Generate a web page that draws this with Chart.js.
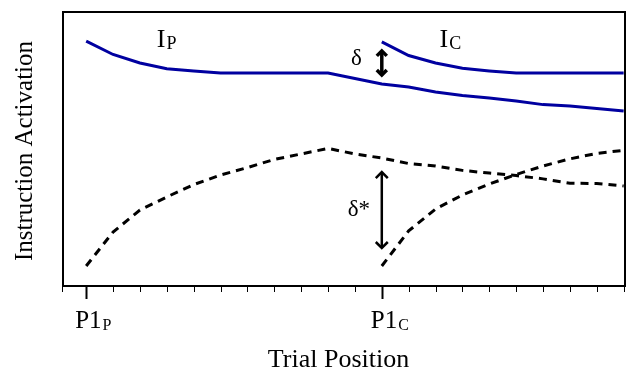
<!DOCTYPE html>
<html lang="en">
<head>
<meta charset="UTF-8">
<title>Instruction Activation</title>
<script src="https://cdn.jsdelivr.net/npm/chart.js"></script>
<style>
    body { margin: 0; background: #fff; }
</style>
</head>
<body>
<canvas id="chart" width="626" height="370"></canvas>
<script>
    // trial positions, P1_P at 0 and P1_C at 11
    const trials = [0,1,2,3,4,5,6,7,8,9,10,11,12,13,14,15,16,17,18,19,20];
    const majorTicks = [0, 11];
    const majorLabels = [['P1', 'P'], ['P1', 'C']];

    // solid lines: previous (I_P) and current (I_C) instruction
    const prevInstr = [89.4, 84.5, 81.4, 79.3, 78.5, 77.7, 77.7, 77.7, 77.7, 77.7, 75.7,
                       73.7, 72.6, 70.8, 69.5, 68.6, 67.5, 66.2, 65.7, 64.8, 63.9];
    const currInstr = [null, null, null, null, null, null, null, null, null, null, null,
                       89.1, 84.1, 81.4, 79.5, 78.5, 77.7, 77.7, 77.7, 77.7, 77.7];
    // dashed lines
    const prevDashed = [7.3, 19.7, 27.7, 32.5, 37.0, 40.5, 43.2, 46.2, 48.2, 50.2, 48.2,
                        46.7, 44.7, 43.8, 42.2, 41.2, 40.3, 39.1, 37.5, 37.4, 36.5];
    const currDashed = [null, null, null, null, null, null, null, null, null, null, null,
                        7.3, 20.1, 28.1, 33.2, 37.2, 40.7, 43.8, 46.4, 48.4, 49.5];

    const BLUE = '#0000a0';
    const SERIF = '"Liberation Serif", "DejaVu Serif", serif';

    function points(values) {
        return trials.map((t, i) => ({ x: t, y: values[i] }));
    }

    function drawSub(ctx, main, sub, x, y, size, subSize) {
        ctx.font = size + 'px ' + SERIF;
        ctx.textAlign = 'left';
        ctx.textBaseline = 'alphabetic';
        ctx.fillText(main, x, y);
        const w = ctx.measureText(main).width;
        ctx.font = subSize + 'px ' + SERIF;
        ctx.fillText(sub, x + w + 1, y + 2);
    }

    function drawArrow(ctx, x, top, bottom, width, head) {
        ctx.save();
        ctx.strokeStyle = '#000';
        ctx.lineWidth = width;
        ctx.lineJoin = 'miter';
        ctx.lineCap = 'butt';
        ctx.beginPath();
        ctx.moveTo(x, top + 1);
        ctx.lineTo(x, bottom - 1);
        ctx.stroke();
        ctx.beginPath();
        ctx.moveTo(x - head, top + head);
        ctx.lineTo(x, top);
        ctx.lineTo(x + head, top + head);
        ctx.moveTo(x - head, bottom - head);
        ctx.lineTo(x, bottom);
        ctx.lineTo(x + head, bottom - head);
        ctx.stroke();
        ctx.restore();
    }

    const frame = {
        id: 'frame',
        afterDraw(chart) {
            const ctx = chart.ctx;
            const a = chart.chartArea;
            const xs = chart.scales.x;
            const ys = chart.scales.y;
            ctx.save();
            ctx.fillStyle = '#000';
            ctx.strokeStyle = '#000';

            // box
            ctx.lineWidth = 2;
            ctx.strokeRect(a.left + 1, a.top, a.right - a.left - 1, a.bottom - a.top);

            // ticks below the box
            for (const t of trials) {
                const px = Math.round(xs.getPixelForValue(t)) + 0.5;
                const major = majorTicks.includes(t);
                ctx.lineWidth = major ? 2 : 1;
                ctx.beginPath();
                ctx.moveTo(px, a.bottom);
                ctx.lineTo(px, a.bottom + (major ? 13 : 6));
                ctx.stroke();
            }
            ctx.lineWidth = 1;
            ctx.beginPath();
            ctx.moveTo(a.left + 0.5, a.bottom);
            ctx.lineTo(a.left + 0.5, a.bottom + 6);
            ctx.stroke();

            // tick labels
            majorTicks.forEach((t, i) => {
                const px = xs.getPixelForValue(t);
                drawSub(ctx, majorLabels[i][0], majorLabels[i][1], px - 11, a.bottom + 42, 25, 16);
            });

            // axis titles
            ctx.font = '26px ' + SERIF;
            ctx.textAlign = 'center';
            ctx.textBaseline = 'alphabetic';
            ctx.fillText('Trial Position', (a.left + a.right) / 2 - 5, a.bottom + 81);
            ctx.save();
            ctx.translate(32, (a.top + a.bottom) / 2 + 2);
            ctx.rotate(-Math.PI / 2);
            ctx.font = '25px ' + SERIF;
            ctx.fillText('Instruction Activation', 0, 0);
            ctx.restore();

            // line labels
            drawSub(ctx, 'I', 'P', xs.getPixelForValue(2.63), ys.getPixelForValue(87.2), 26, 18);
            drawSub(ctx, 'I', 'C', xs.getPixelForValue(13.15), ys.getPixelForValue(87.2), 26, 18);

            // delta arrows at P1_C
            const ax = xs.getPixelForValue(11);
            drawArrow(ctx, ax, ys.getPixelForValue(currInstr[11]) + 9,
                      ys.getPixelForValue(prevInstr[11]) - 9, 3.5, 5);
            drawArrow(ctx, ax, ys.getPixelForValue(prevDashed[11]) + 14,
                      ys.getPixelForValue(currDashed[11]) - 18, 2.5, 6);

            ctx.font = '23px ' + SERIF;
            ctx.textAlign = 'left';
            ctx.fillText('\u03b4', xs.getPixelForValue(9.85), ys.getPixelForValue(80.7));
            ctx.fillText('\u03b4*', xs.getPixelForValue(9.73), ys.getPixelForValue(25.4));
            ctx.restore();
        }
    };

    const lineStyle = { pointRadius: 0, tension: 0, fill: false, borderWidth: 3 };

    new Chart(document.getElementById('chart'), {
        type: 'line',
        data: {
            datasets: [
                Object.assign({ label: 'I_P', data: points(prevInstr), borderColor: BLUE }, lineStyle),
                Object.assign({ label: 'I_C', data: points(currInstr), borderColor: BLUE }, lineStyle),
                Object.assign({ label: 'P dashed', data: points(prevDashed), borderColor: '#000', borderDash: [8, 6] }, lineStyle),
                Object.assign({ label: 'C dashed', data: points(currDashed), borderColor: '#000', borderDash: [8, 6] }, lineStyle)
            ]
        },
        options: {
            responsive: false,
            animation: false,
            devicePixelRatio: 1,
            layout: { padding: { left: 62, right: 1, top: 12, bottom: 84 } },
            plugins: {
                legend: { display: false },
                tooltip: { enabled: false }
            },
            scales: {
                x: { type: 'linear', min: -0.9, max: 20.05, display: false },
                y: { min: 0, max: 100, display: false }
            }
        },
        plugins: [frame]
    });
</script>
</body>
</html>
